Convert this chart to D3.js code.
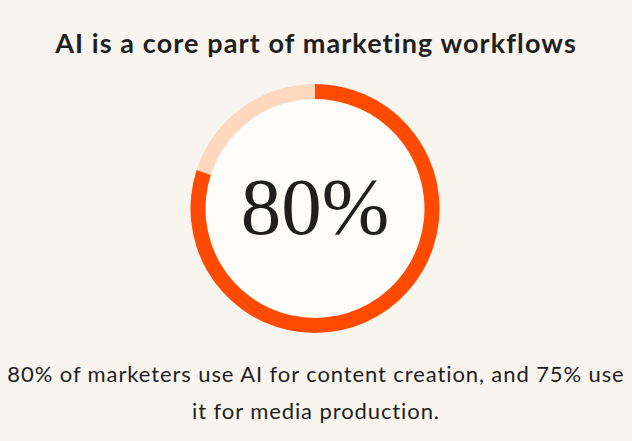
<!DOCTYPE html>
<html>
<head>
<meta charset="utf-8">
<script src="https://cdn.jsdelivr.net/npm/d3@7"></script>
<style>
  html, body { margin: 0; padding: 0; background: #f8f4ee; }
  svg { display: block; }
</style>
</head>
<body>
<svg id="chart" width="632" height="441"></svg>
<script>
// Chart data
const title = "AI is a core part of marketing workflows";
const segments = ["AI for content creation", "Other"];
const shares = [80, 20];
const centerLabel = "80%";
const captionLines = [
    "80% of marketers use AI for content creation, and 75% use",
    "it for media production."
];

const width = 632;
const height = 441;
const cx = 315;
const cy = 208.5;
const outerR = 124.5;
const innerR = 109.5;

const colors = d3.scaleOrdinal().domain(segments).range(["#ff4a00", "#ffd8bf"]);

const svg = d3.select('#chart');

// Title
svg.append('text')
    .attr('x', width / 2)
    .attr('y', 53)
    .attr('text-anchor', 'middle')
    .style('font-family', 'Lato, sans-serif')
    .style('font-weight', 700)
    .style('font-size', '27px')
    .style('letter-spacing', '1.1px')
    .style('fill', '#1f1f1f')
    .text(title);

// Donut
const g = svg.append('g').attr('transform', `translate(${cx},${cy})`);

g.append('circle')
    .attr('r', innerR)
    .style('fill', '#fdfcf9');

const pie = d3.pie().sort(null).value((d) => d);
const arc = d3.arc().innerRadius(innerR).outerRadius(outerR);

g.selectAll('path')
    .data(pie(shares))
    .enter()
    .append('path')
    .attr('d', arc)
    .style('fill', (d, i) => colors(segments[i]));

g.append('text')
    .attr('x', 0)
    .attr('y', 25)
    .attr('text-anchor', 'middle')
    .style('font-family', '"Liberation Serif", serif')
    .style('font-size', '81px')
    .style('fill', '#1f1f1f')
    .text(centerLabel);

// Caption
svg.selectAll('.caption')
    .data(captionLines)
    .enter()
    .append('text')
    .attr('class', 'caption')
    .attr('x', width / 2)
    .attr('y', (d, i) => 382 + i * 37)
    .attr('text-anchor', 'middle')
    .style('font-family', 'Lato, sans-serif')
    .style('font-size', '22px')
    .style('letter-spacing', '0.9px')
    .style('fill', '#1f1f1f')
    .text((d) => d);
</script>
</body>
</html>
